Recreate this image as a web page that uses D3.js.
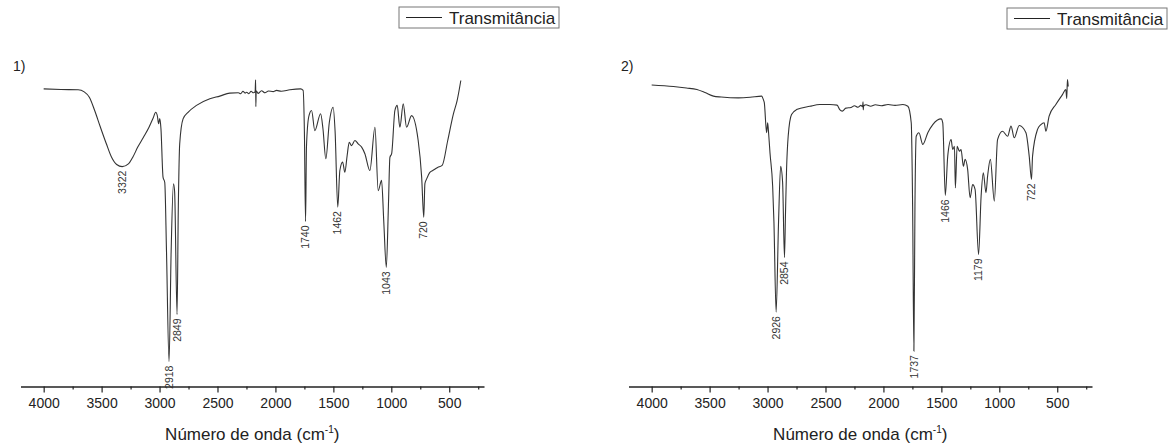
<!DOCTYPE html>
<html>
<head>
<meta charset="utf-8">
<script src="https://cdn.jsdelivr.net/npm/d3@7"></script>
<style>
  body { margin: 0; background: #fff; }
  svg { display: block; font-family: "Liberation Sans", Arial, sans-serif; }
</style>
</head>
<body>
<svg id="chart" width="1169" height="448"></svg>
<script>
// x axis ticks (cm-1)
const majorTicks = [4000, 3500, 3000, 2500, 2000, 1500, 1000, 500];
const minorTicks = [3750, 3250, 2750, 2250, 1750, 1250, 750, 250];

// spectrum 1: [wavenumber, transmittance (arb.)]
const spectrum1 = [
  [4000, 99.2], [3850, 99.0], [3703, 98.9], [3650, 98.2], [3606, 96.4], [3560, 92.0],
  [3510, 86.4], [3460, 81.0], [3414, 76.4], [3370, 74.0], [3322, 73.3], [3269, 74.2],
  [3230, 76.5], [3188, 79.8], [3140, 83.0], [3091, 86.4], [3055, 89.5], [3033, 91.4],
  [3018, 90.0], [3008, 87.6], [2998, 89.3], [2988, 86.0], [2970, 69.8], [2955, 68.0],
  [2940, 45.0], [2918, 8.3], [2900, 45.0], [2880, 67.6], [2870, 65.0], [2849, 24.0],
  [2838, 60.0], [2826, 80.9], [2797, 89.2], [2754, 91.4], [2681, 93.7], [2566, 95.9],
  [2480, 96.8], [2394, 97.8], [2320, 97.9], [2300, 97.6], [2280, 98.4], [2262, 97.8],
  [2249, 98.1], [2230, 97.6], [2210, 98.4], [2190, 97.9], [2175, 98.3], [2171, 102.2],
  [2169, 93.3], [2166, 98.6], [2150, 97.7], [2120, 98.6], [2090, 97.9], [2060, 98.5],
  [2020, 98.3], [1990, 98.7], [1950, 98.4], [1875, 98.9], [1783, 99.2], [1761, 98.7],
  [1750, 85.0], [1740, 55.0], [1732, 80.0], [1712, 90.0], [1688, 92.0], [1660, 85.3],
  [1610, 90.9], [1590, 86.0], [1565, 75.9], [1535, 88.0], [1502, 93.1], [1485, 85.0],
  [1462, 59.8], [1444, 72.0], [1420, 74.8], [1401, 71.4], [1381, 77.0], [1363, 81.4],
  [1343, 80.3], [1314, 82.0], [1286, 80.9], [1256, 79.8], [1228, 77.6], [1185, 72.0],
  [1141, 86.4], [1113, 65.3], [1084, 68.7], [1065, 55.0], [1043, 39.7], [1025, 60.0],
  [1012, 76.4], [997, 77.6], [969, 92.0], [949, 93.7], [926, 86.4], [897, 94.2],
  [868, 86.4], [825, 90.3], [768, 82.0], [738, 69.8], [720, 56.4], [710, 67.6],
  [695, 69.2], [667, 71.4], [642, 72.0], [600, 73.0], [561, 73.7], [513, 82.0],
  [464, 90.9], [432, 95.3], [400, 102.0]
];
const peaks1 = [3322, 2918, 2849, 1740, 1462, 1043, 720];

// spectrum 2
const spectrum2 = [
  [4000, 100.5], [3812, 100.0], [3700, 99.5], [3610, 99.0], [3540, 98.0], [3467, 96.8],
  [3400, 96.5], [3252, 96.2], [3150, 96.4], [3051, 96.8], [3035, 95.5], [3028, 94.6],
  [3008, 84.6], [2999, 87.9], [2990, 84.0], [2979, 77.9], [2956, 66.8], [2945, 55.0],
  [2926, 24.8], [2905, 55.0], [2887, 73.4], [2870, 68.0], [2854, 43.0], [2845, 58.0],
  [2836, 72.3], [2822, 83.4], [2793, 90.7], [2750, 92.3], [2635, 93.4], [2549, 94.0],
  [2463, 94.0], [2400, 93.8], [2377, 92.3], [2355, 91.8], [2324, 92.8], [2280, 93.0],
  [2250, 93.6], [2220, 93.1], [2195, 93.7], [2180, 93.3], [2176, 94.9], [2174, 92.2],
  [2171, 93.5], [2150, 93.9], [2110, 93.4], [2070, 93.9], [2020, 93.6], [1960, 94.0],
  [1900, 93.7], [1832, 94.0], [1789, 93.4], [1760, 87.9], [1748, 60.0], [1737, 11.8],
  [1728, 60.0], [1717, 83.4], [1694, 84.6], [1660, 80.7], [1617, 84.6], [1574, 87.3],
  [1502, 89.2], [1488, 87.9], [1466, 63.7], [1445, 76.8], [1416, 82.3], [1402, 79.0],
  [1387, 80.1], [1379, 66.2], [1364, 80.1], [1344, 78.4], [1330, 79.0], [1310, 73.4],
  [1295, 75.7], [1273, 72.3], [1252, 62.9], [1230, 67.3], [1209, 65.7], [1179, 44.0],
  [1157, 63.4], [1138, 71.2], [1115, 64.6], [1101, 70.1], [1077, 75.7], [1043, 61.8],
  [1015, 82.3], [972, 85.1], [928, 83.4], [899, 86.8], [871, 82.9], [828, 87.0],
  [770, 84.6], [742, 76.8], [722, 69.0], [713, 76.8], [670, 85.7], [641, 87.3],
  [613, 87.9], [598, 85.1], [570, 90.1], [512, 94.0], [455, 97.3], [426, 99.0],
  [418, 96.0], [412, 102.3], [405, 100.0]
];
const peaks2 = [2926, 2854, 1737, 1466, 1179, 722];

const panelNames = ["1)", "2)"];
const legendLabel = "Transmitância";

const svg = d3.select("#chart");
const ink = "#222";

const panels = [
  { name: panelNames[0], data: spectrum1, peaks: peaks1, dx: 0, legendX: 399, legendY: 7 },
  { name: panelNames[1], data: spectrum2, peaks: peaks2, dx: 608, legendX: 399, legendY: 8 }
];

panels.forEach(p => {
  const g = svg.append("g").attr("transform", `translate(${p.dx},0)`);

  const x = d3.scaleLinear().domain([4200, 200]).range([20.5, 484]);
  const y = d3.scaleLinear().domain([0, 110]).range([386.5, 56.5]);

  // axis, major ticks with labels
  const axisG = g.append("g").attr("transform", "translate(0,386.5)")
    .call(d3.axisBottom(x).tickValues(majorTicks).tickSize(6).tickSizeOuter(0)
      .tickPadding(6).tickFormat(d3.format("d")));
  axisG.select(".domain").attr("stroke", ink).attr("stroke-width", 1.6);
  axisG.selectAll(".tick line").attr("stroke", ink).attr("stroke-width", 1.2);
  axisG.selectAll(".tick text").attr("fill", ink).attr("font-size", 14)
    .attr("font-family", "Liberation Sans, Arial, sans-serif");

  // minor ticks
  const minorG = g.append("g").attr("transform", "translate(0,386.5)")
    .call(d3.axisBottom(x).tickValues(minorTicks).tickSize(3).tickSizeOuter(0).tickFormat(""));
  minorG.select(".domain").remove();
  minorG.selectAll(".tick line").attr("stroke", ink).attr("stroke-width", 1.2);

  // axis title
  const title = g.append("text")
    .attr("x", (x.range()[0] + x.range()[1]) / 2)
    .attr("y", 440)
    .attr("text-anchor", "middle")
    .attr("font-size", 17)
    .attr("fill", ink);
  title.append("tspan").text("Número de onda (cm");
  title.append("tspan").attr("dy", -7).attr("font-size", 10).text("-1");
  title.append("tspan").attr("dy", 7).text(")");

  // spectrum
  const line = d3.line()
    .x(d => x(d[0]))
    .y(d => y(d[1]))
    .curve(d3.curveMonotoneX);

  g.append("path")
    .datum(p.data)
    .attr("fill", "none")
    .attr("stroke", "#333")
    .attr("stroke-width", 1.1)
    .attr("d", line);

  // peak labels
  p.peaks.forEach(w => {
    const pt = p.data.find(d => d[0] === w);
    g.append("text")
      .attr("transform", `translate(${x(w)},${y(pt[1]) + 4}) rotate(-90)`)
      .attr("text-anchor", "end")
      .attr("dy", "0.35em")
      .attr("font-size", 10.5)
      .attr("fill", "#333")
      .text(w);
  });

  // panel name
  g.append("text")
    .attr("x", 13)
    .attr("y", 71)
    .attr("font-size", 14)
    .attr("fill", ink)
    .text(p.name);

  // legend
  const lg = g.append("g").attr("transform", `translate(${p.legendX},${p.legendY})`);
  lg.append("rect")
    .attr("width", 160).attr("height", 21)
    .attr("fill", "#fff").attr("stroke", "#777").attr("stroke-width", 1);
  lg.append("line")
    .attr("x1", 7).attr("x2", 43).attr("y1", 10.5).attr("y2", 10.5)
    .attr("stroke", ink).attr("stroke-width", 1);
  lg.append("text")
    .attr("x", 50).attr("y", 16.5)
    .attr("font-size", 17)
    .attr("fill", ink)
    .text(legendLabel);
});
</script>
</body>
</html>
